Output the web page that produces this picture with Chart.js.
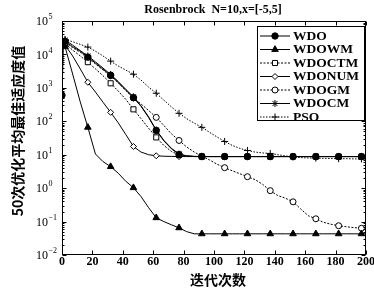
<!DOCTYPE html>
<html>
<head>
<meta charset="utf-8">
<script src="https://cdn.jsdelivr.net/npm/chart.js@4.4.1/dist/chart.umd.min.js"></script>
<style>
html, body { margin: 0; padding: 0; background: #fff; overflow: hidden; }
#wrap { width: 374px; height: 292px; overflow: hidden; }
</style>
</head>
<body>
<div id="wrap"><canvas id="chart" width="385" height="292"></canvas></div>
<script>
// iteration grid shared by all curves
const iterations = [0, 1, 2, 7, 12, 17, 22, 27, 32, 37, 42, 47, 52, 57, 62, 67, 72, 77, 82, 87,
  92, 97, 102, 107, 112, 117, 122, 127, 132, 137, 142, 147, 152, 157, 162, 167, 172, 177, 182, 187,
  192, 197, 200];

// iterations where a marker is drawn
const markerIters = [2, 17, 32, 47, 62, 77, 92, 107, 122, 137, 152, 167, 182, 197];

const xTicks = [0, 20, 40, 60, 80, 100, 120, 140, 160, 180, 200];
const yExponents = [-2, -1, 0, 1, 2, 3, 4, 5];

const wdo = [600, 26000, 25000, 17000, 12500, 8300, 5500, 3600, 2390, 1450,
  850, 510, 280, 130, 53, 26, 15, 10.1, 9.2, 8.9,
  8.8, 8.8, 8.8, 8.8, 8.8, 8.8, 8.8, 8.8, 8.8, 8.8,
  8.8, 8.8, 8.8, 8.8, 8.8, 8.8, 8.8, 8.8, 8.8, 8.8,
  8.8, 8.8, 8.8];

const wdowm = [20000, 19000, 17000, 2600, 380, 66, 10.5, 6.2, 4.4, 2.8,
  1.6, 1.03, 0.56, 0.26, 0.13, 0.10, 0.080, 0.065, 0.05, 0.043,
  0.043, 0.043, 0.043, 0.043, 0.043, 0.043, 0.043, 0.043, 0.043, 0.043,
  0.043, 0.043, 0.043, 0.043, 0.043, 0.043, 0.043, 0.043, 0.043, 0.043,
  0.043, 0.043, 0.043];

const wdoctm = [22000, 22000, 21000, 13500, 9000, 5870, 3700, 2300, 1370, 800,
  450, 228, 120, 62, 33, 19, 12.5, 9.8, 9.0, 8.8,
  8.8, 8.8, 8.8, 8.8, 8.8, 8.8, 8.8, 8.8, 8.8, 8.8,
  8.8, 8.8, 8.8, 8.8, 8.8, 8.8, 8.8, 8.8, 8.8, 8.8,
  8.8, 8.8, 8.8];

const wdonum = [20000, 20000, 19000, 9000, 3700, 1470, 750, 370, 185, 90,
  40, 17.6, 12, 10, 9.3, 9.0, 8.9, 8.8, 8.8, 8.8,
  8.8, 8.8, 8.8, 8.8, 8.8, 8.8, 8.8, 8.8, 8.8, 8.8,
  8.8, 8.8, 8.8, 8.8, 8.8, 8.8, 8.8, 8.8, 8.8, 8.8,
  8.8, 8.8, 8.8];

const wdogm = [24000, 24000, 23000, 16000, 11500, 7800, 5200, 3400, 2300, 1400,
  830, 500, 330, 210, 131, 75, 42, 26.7, 17, 12,
  9.0, 7.0, 5.2, 4.1, 3.3, 2.7, 2.2, 1.8, 1.3, 0.84,
  0.6, 0.5, 0.39, 0.24, 0.15, 0.121, 0.095, 0.083, 0.075, 0.07,
  0.066, 0.063, 0.062];

const wdocm = [30000, 28000, 27000, 19000, 13000, 9000, 6000, 3900, 2500, 1550,
  900, 540, 290, 135, 55, 27, 15.5, 10.5, 9.3, 8.9,
  8.8, 8.8, 8.8, 8.8, 8.8, 8.8, 8.8, 8.8, 8.8, 8.8,
  8.8, 8.8, 8.8, 8.8, 8.8, 8.8, 8.8, 8.8, 8.8, 8.8,
  8.8, 8.8, 8.8];

const pso = [30000, 30000, 28000, 24000, 20000, 16600, 12500, 9000, 6300, 4500,
  3400, 2560, 1700, 1050, 690, 430, 270, 173, 120, 88,
  66, 47, 34, 24.9, 19, 15.5, 13.4, 12, 11.3, 10.9,
  10, 9.2, 8.6, 8.2, 8.0, 7.9, 7.8, 7.7, 7.6, 7.6,
  7.5, 7.5, 7.5];

const SERIF = '"Liberation Serif", "DejaVu Serif", serif';
const CJK = '"Noto Sans CJK SC", sans-serif';

function series(label, values, style) {
  const extra = style.extraMarkers || [];
  return {
    label: label,
    data: iterations.map((it, i) => ({ x: it, y: values[i] })),
    borderColor: '#000',
    borderWidth: 1,
    borderDash: style.dash || [],
    pointStyle: style.pointStyle,
    pointBackgroundColor: style.fill,
    pointBorderColor: '#000',
    pointBorderWidth: 1,
    pointRadius: ctx => {
      const it = iterations[ctx.dataIndex];
      return (markerIters.includes(it) || extra.includes(it)) ? style.radius : 0;
    },
    pointHoverRadius: 0,
    legendStyle: style
  };
}

const datasets = [
  series('WDO', wdo, { pointStyle: 'circle', radius: 3.2, fill: '#000', extraMarkers: [0] }),
  series('WDOWM', wdowm, { pointStyle: 'triangle', radius: 3.8, fill: '#000' }),
  series('WDOCTM', wdoctm, { pointStyle: 'rect', radius: 3.6, fill: '#fff', dash: [2, 1.5] }),
  series('WDONUM', wdonum, { pointStyle: 'rectRot', radius: 3, fill: '#fff' }),
  series('WDOGM', wdogm, { pointStyle: 'circle', radius: 3, fill: '#fff', dash: [2, 1.5] }),
  series('WDOCM', wdocm, { pointStyle: 'star', radius: 3.5, fill: '#000' }),
  series('PSO', pso, { pointStyle: 'cross', radius: 3.5, fill: '#000', dash: [1.5, 1.5] })
];

const decor = {
  id: 'decor',
  afterDraw(chart) {
    const { ctx, chartArea: a, scales } = chart;
    const x = scales.x, y = scales.y;
    const L = Math.round(a.left) + 0.5, R = Math.round(a.right) - 0.5;
    const T = Math.round(a.top) + 0.5, B = Math.round(a.bottom) - 0.5;
    ctx.save();
    ctx.strokeStyle = '#000';
    ctx.lineWidth = 1;
    ctx.setLineDash([]);
    ctx.strokeRect(L, T, R - L, B - T);

    // inward ticks
    ctx.beginPath();
    xTicks.forEach(v => {
      const px = Math.round(x.getPixelForValue(v)) + 0.5;
      ctx.moveTo(px, B); ctx.lineTo(px, B - 4);
      ctx.moveTo(px, T); ctx.lineTo(px, T + 4);
    });
    yExponents.forEach(e => {
      const py = Math.round(y.getPixelForValue(Math.pow(10, e))) + 0.5;
      ctx.moveTo(L, py); ctx.lineTo(L + 4, py);
      ctx.moveTo(R, py); ctx.lineTo(R - 4, py);
      if (e < 5) {
        for (let m = 2; m <= 9; m++) {
          const pm = Math.round(y.getPixelForValue(m * Math.pow(10, e))) + 0.5;
          ctx.moveTo(L, pm); ctx.lineTo(L + 2, pm);
          ctx.moveTo(R, pm); ctx.lineTo(R - 2, pm);
        }
      }
    });
    ctx.stroke();

    // y tick labels 10^n
    ctx.fillStyle = '#000';
    ctx.textBaseline = 'middle';
    ctx.textAlign = 'left';
    yExponents.forEach(e => {
      const py = y.getPixelForValue(Math.pow(10, e));
      ctx.font = '12px ' + SERIF;
      ctx.fillText('10', 36, py + 1);
      const w = ctx.measureText('10').width;
      ctx.font = '8px ' + SERIF;
      ctx.fillText(e < 0 ? '\u2212' + (-e) : String(e), 36 + w + 0.5, py - 4);
    });

    // title
    ctx.textAlign = 'center';
    ctx.font = 'bold 12px ' + SERIF;
    ctx.fillText('Rosenbrock  N=10,x=[-5,5]', 213, 10);

    // axis titles
    ctx.font = 'bold 14px ' + CJK;
    ctx.fillText('\u8fed\u4ee3\u6b21\u6570', 218, 280);
    ctx.save();
    ctx.translate(18, 131);
    ctx.rotate(-Math.PI / 2);
    ctx.fillText('50\u6b21\u4f18\u5316\u5e73\u5747\u6700\u4f73\u9002\u5e94\u5ea6\u503c', 0, 0);
    ctx.restore();

    // legend box
    const bx = 257, by = 26, bw = 107, bh = 94;
    ctx.fillStyle = '#fff';
    ctx.fillRect(bx, by, bw, bh);
    ctx.strokeRect(bx + 0.5, by + 0.5, bw, bh);
    chart.data.datasets.forEach((ds, i) => {
      const yy = 36 + i * 13.5;
      const st = ds.legendStyle;
      ctx.setLineDash(st.dash || []);
      ctx.strokeStyle = '#000';
      ctx.beginPath();
      ctx.moveTo(260, yy); ctx.lineTo(290, yy);
      ctx.stroke();
      ctx.setLineDash([]);
      ctx.fillStyle = st.fill;
      ctx.lineWidth = 1;
      Chart.helpers.drawPoint(ctx, { pointStyle: st.pointStyle, radius: st.radius, rotation: 0, borderWidth: 1 }, 275, yy);
      ctx.fillStyle = '#000';
      ctx.font = 'bold 13.5px ' + SERIF;
      ctx.textAlign = 'left';
      ctx.textBaseline = 'middle';
      ctx.fillText(ds.label, 293, yy + 0.5);
    });
    ctx.restore();
  }
};

new Chart(document.getElementById('chart'), {
  type: 'line',
  data: { datasets: datasets },
  options: {
    responsive: false,
    animation: false,
    events: [],
    layout: { padding: { left: 62, right: 19, top: 21, bottom: 0 } },
    elements: { line: { tension: 0 } },
    plugins: { legend: { display: false }, tooltip: { enabled: false }, title: { display: false } },
    scales: {
      x: {
        type: 'linear',
        min: 0,
        max: 200,
        afterFit: s => { s.height = 37; },
        grid: { display: false, drawTicks: false },
        border: { display: false },
        ticks: {
          stepSize: 20,
          autoSkip: false,
          maxRotation: 0,
          padding: 0,
          color: '#000',
          font: { family: SERIF, size: 12, weight: 'bold' }
        }
      },
      y: {
        type: 'logarithmic',
        min: 0.01,
        max: 100000,
        afterFit: s => { s.width = 0; },
        grid: { display: false, drawTicks: false },
        border: { display: false },
        ticks: { display: false }
      }
    }
  },
  plugins: [decor]
});
</script>
</body>
</html>
